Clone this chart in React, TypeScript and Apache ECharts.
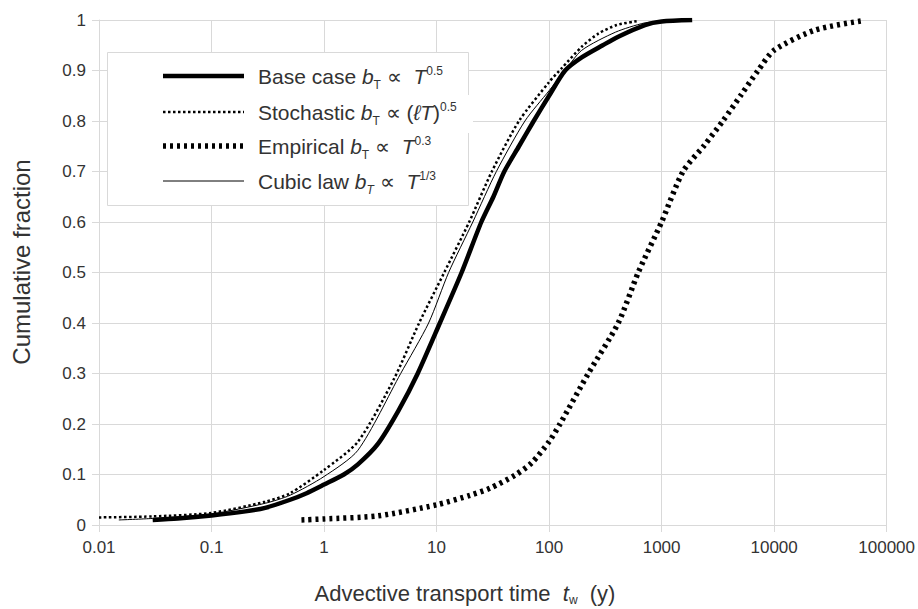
import React, { useEffect, useRef } from "react";
import * as echarts from "echarts";

// Cumulative distributions of advective transport time [t (years), fraction]
const baseCase: [number, number][] = [
  [0.03, 0.01], [0.05, 0.013], [0.1, 0.019], [0.2, 0.027], [0.3, 0.034],
  [0.5, 0.05], [0.7, 0.063], [1, 0.08], [1.5, 0.1], [2, 0.12], [3, 0.16],
  [4.6, 0.227], [6.8, 0.3], [10.7, 0.4], [16.7, 0.5], [25, 0.6], [32, 0.65],
  [40, 0.7], [54, 0.75], [73, 0.8], [100, 0.85], [139, 0.9], [195, 0.926],
  [300, 0.95], [412, 0.967], [711, 0.99], [1000, 0.997], [1870, 1.0],
];

const stochastic: [number, number][] = [
  [0.01, 0.015], [0.03, 0.017], [0.1, 0.024], [0.3, 0.046], [0.5, 0.063],
  [1, 0.109], [2, 0.165], [4.2, 0.29], [7, 0.4], [11.7, 0.5], [19.5, 0.6],
  [31, 0.7], [54, 0.8], [100, 0.877], [130, 0.905], [195, 0.947], [274, 0.973],
  [400, 0.99], [612, 0.998],
];

const empirical: [number, number][] = [
  [0.63, 0.01], [1, 0.012], [3, 0.018], [10, 0.04], [20, 0.059], [30, 0.073],
  [50, 0.099], [70, 0.123], [100, 0.165], [125, 0.2], [223, 0.3], [412, 0.4],
  [620, 0.5], [1000, 0.6], [1550, 0.7], [2400, 0.752], [3500, 0.8],
  [5100, 0.852], [7200, 0.9], [10000, 0.94], [23000, 0.98], [59000, 0.998],
];

const cubicLaw: [number, number][] = [
  [0.015, 0.01], [0.03, 0.013], [0.1, 0.022], [0.3, 0.043], [0.5, 0.059],
  [1, 0.096], [2, 0.148], [4.8, 0.3], [8.5, 0.4], [12.8, 0.5], [21, 0.6],
  [34, 0.7], [61, 0.8], [100, 0.86], [139, 0.9], [195, 0.94], [390, 0.976],
  [700, 0.994], [1150, 1.0],
];

const seriesNames = ["Base case", "Stochastic", "Empirical", "Cubic law"];

// Legend labels (rich-text markup: n normal, i italic, s subscript, si italic subscript, p superscript)
const legendLabels = [
  "{n|Base case }{i|b}{s|T}{n| ∝  }{i|T}{p|0.5}",
  "{n|Stochastic }{i|b}{s|T}{n| ∝ (}{i|ℓT}{n|)}{p|0.5}",
  "{n|Empirical }{i|b}{s|T}{n| ∝  }{i|T}{p|0.3}",
  "{n|Cubic law }{i|b}{si|T}{n| ∝  }{i|T}{p|1/3}",
];

const xTitle = "{n|Advective transport time  }{i|t}{s|w}{n|  (y)}";
const yTitle = "Cumulative fraction";

const xMin = 0.01;
const xMax = 100000;
const yMin = 0;
const yMax = 1;
const yStep = 0.1;

const FONT = '"Liberation Sans", Arial, sans-serif';
const TEXT = "#333";
const GRID = "#d9d9d9";

const lineStyles = [
  { color: "#000", width: 4.5, type: "solid" as any },
  { color: "#000", width: 2.5, type: [2.5, 2.5] as any },
  { color: "#000", width: 5.5, type: [3, 4] as any },
  { color: "#000", width: 1, type: "solid" as any },
];

const richStyles = (size: number, lh: number) => ({
  n: { fontFamily: FONT, fontSize: size, lineHeight: lh, color: TEXT },
  i: { fontFamily: FONT, fontSize: size, fontStyle: "italic", lineHeight: lh, color: TEXT },
  s: { fontFamily: FONT, fontSize: 12, verticalAlign: "bottom", color: TEXT },
  si: { fontFamily: FONT, fontSize: 12, fontStyle: "italic", verticalAlign: "bottom", color: TEXT },
  p: { fontFamily: FONT, fontSize: 12, verticalAlign: "top", padding: [4, 0, 0, 0], color: TEXT },
});

export default function App() {
  const ref = useRef<HTMLDivElement>(null);

  useEffect(() => {
    if (!ref.current) return;
    const chart = echarts.init(ref.current, null, { renderer: "svg" });

    const rowY = [76, 112, 146, 181];
    const legendGraphics: any[] = [
      {
        type: "rect",
        z: 100,
        shape: { x: 107.5, y: 52.5, width: 361, height: 153 },
        style: { fill: "#fff", stroke: GRID, lineWidth: 1 },
      },
      {
        type: "rect",
        z: 101,
        shape: { x: 465, y: 95, width: 8, height: 38 },
        style: { fill: "#fff" },
      },
    ];
    legendLabels.forEach((label, k) => {
      const ls = lineStyles[k];
      legendGraphics.push({
        type: "line",
        z: 102,
        shape: { x1: 163, y1: rowY[k], x2: 244, y2: rowY[k] },
        style: {
          stroke: ls.color,
          lineWidth: ls.width,
          lineDash: Array.isArray(ls.type) ? ls.type : null,
        },
      });
      legendGraphics.push({
        type: "text",
        z: 102,
        x: 258,
        y: rowY[k],
        style: {
          text: label,
          rich: richStyles(21, 30),
          fontFamily: FONT,
          fontSize: 21,
          fill: TEXT,
          verticalAlign: "middle",
          align: "left",
        },
      });
    });

    const option: any = {
      animation: false,
      backgroundColor: "#fff",
      grid: { left: 99, right: 29, top: 20, bottom: 84, containLabel: false },
      xAxis: {
        type: "log",
        logBase: 10,
        min: xMin,
        max: xMax,
        axisLine: { show: true, lineStyle: { color: GRID, width: 1 } },
        axisTick: { show: true, length: 7, lineStyle: { color: GRID } },
        splitLine: { show: true, lineStyle: { color: GRID, width: 1 } },
        minorTick: { show: false },
        axisLabel: {
          fontFamily: FONT,
          fontSize: 17,
          color: TEXT,
          margin: 14,
          formatter: (v: number) => {
            const e = Math.round(Math.log10(v));
            return e < 0 ? v.toFixed(-e) : String(Math.round(v));
          },
        },
      },
      yAxis: {
        type: "value",
        min: yMin,
        max: yMax,
        interval: yStep,
        axisLine: { show: true, lineStyle: { color: GRID, width: 1 } },
        axisTick: { show: true, length: 7, lineStyle: { color: GRID } },
        splitLine: { show: true, lineStyle: { color: GRID, width: 1 } },
        axisLabel: {
          fontFamily: FONT,
          fontSize: 17,
          color: TEXT,
          margin: 13,
          formatter: (v: number) => String(+v.toFixed(1)),
        },
      },
      series: [baseCase, stochastic, empirical, cubicLaw].map((data, k) => ({
        name: seriesNames[k],
        type: "line",
        data,
        symbol: "none",
        showSymbol: false,
        smooth: 0.25,
        silent: true,
        lineStyle: { ...lineStyles[k], cap: "butt", join: "round" },
        z: 4 - k,
      })),
      graphic: [
        ...legendGraphics,
        {
          type: "text",
          x: 465,
          y: 593,
          style: {
            text: xTitle,
            rich: richStyles(22, 26),
            fontFamily: FONT,
            fontSize: 22,
            fill: TEXT,
            align: "center",
            verticalAlign: "middle",
          },
        },
        {
          type: "text",
          x: 21,
          y: 262,
          rotation: Math.PI / 2,
          style: {
            text: yTitle,
            fontFamily: FONT,
            fontSize: 24,
            fill: TEXT,
            align: "center",
            verticalAlign: "middle",
          },
        },
      ],
    };

    chart.setOption(option);
    return () => chart.dispose();
  }, []);

  return (
    <div
      ref={ref}
      style={{ position: "absolute", left: 0, top: 0, width: 918, height: 609, background: "#fff" }}
    />
  );
}
